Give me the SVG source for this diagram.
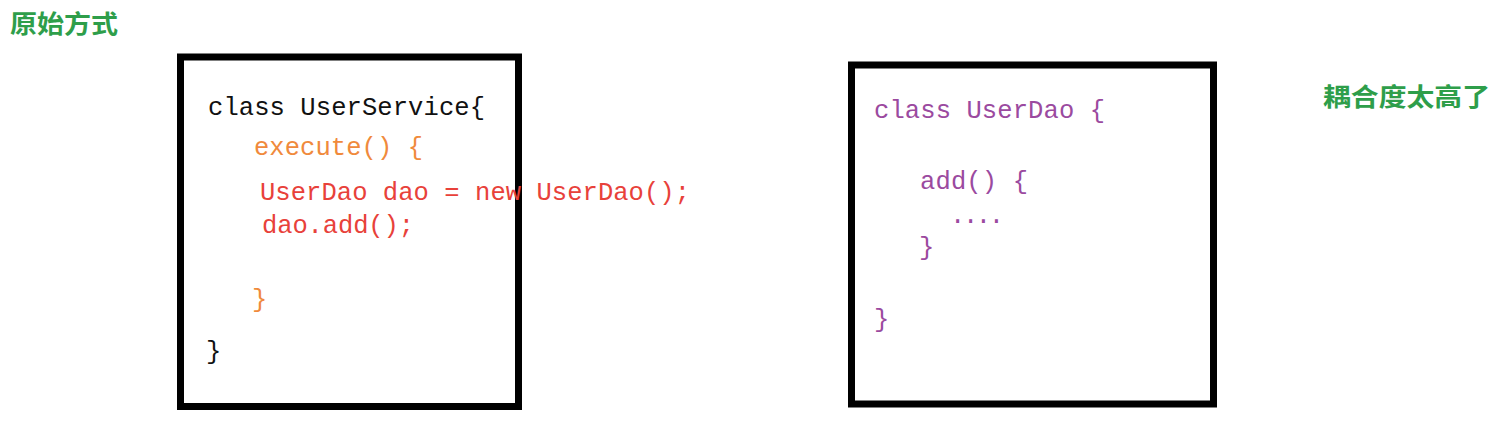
<svg xmlns="http://www.w3.org/2000/svg" width="1497" height="434" viewBox="0 0 1497 434">
<style>
.box{fill:#fff;stroke:#000;stroke-width:7}
.code{font-family:"Liberation Mono","DejaVu Sans Mono",monospace;font-size:25.5px}
.cn{font-family:"Noto Sans CJK SC",sans-serif;font-size:25px;font-weight:bold;fill:#2e9e4a}
.blk{fill:#111}
.org{fill:#f08a3c}
.red{fill:#e8413a}
.pur{fill:#9b4a9f}
</style>
<rect width="1497" height="434" fill="#fff"/>
<g id="title"><text class="cn" x="10" y="33" textLength="108" lengthAdjust="spacingAndGlyphs">原始方式</text></g>
<g id="note"><text class="cn" x="1323" y="106" textLength="167" lengthAdjust="spacingAndGlyphs">耦合度太高了</text></g>
<g id="userService">
<rect class="box" x="180.5" y="57" width="338" height="349.5"/>
<text class="code blk" x="208" y="115" textLength="277">class UserService{</text>
<text class="code org" x="254" y="155" textLength="169">execute() {</text>
<text class="code red" x="260" y="200" textLength="430">UserDao dao = new UserDao();</text>
<text class="code red" x="262" y="233" textLength="152">dao.add();</text>
<text class="code org" x="252" y="307">}</text>
<text class="code blk" x="206" y="359">}</text>
</g>
<g id="userDao">
<rect class="box" x="851.5" y="65" width="362" height="339"/>
<text class="code pur" x="874" y="118" textLength="231">class UserDao {</text>
<text class="code pur" x="920" y="189" textLength="108">add() {</text>
<text class="code pur" x="950" y="223" textLength="54">....</text>
<text class="code pur" x="919" y="255">}</text>
<text class="code pur" x="874" y="327">}</text>
</g>
<g id="connectors"/>
</svg>
